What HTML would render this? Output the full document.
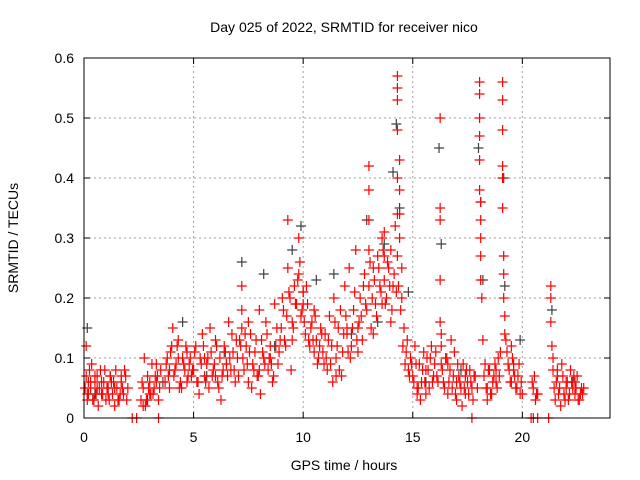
<!DOCTYPE html>
<html><head><meta charset="utf-8"><style>
body{margin:0;background:#fff;}
svg{display:block;font-family:"Liberation Sans",sans-serif;}
</style></head><body>
<svg id="chart" width="640" height="480">
<rect x="0" y="0" width="640" height="480" fill="#fff"/>
<g id="grid"></g>
<g id="gray"></g>
<g id="red"></g>
<rect x="84" y="58" width="526" height="360" fill="none" stroke="#000" stroke-width="1"/>
<g id="ticks"></g>
<text x="344" y="32" font-size="14" text-anchor="middle">Day 025 of 2022, SRMTID for receiver nico</text>
<text x="344" y="470" font-size="14" text-anchor="middle">GPS time / hours</text>
<text x="18" y="238" font-size="14" text-anchor="middle" transform="rotate(-90 18 238)">SRMTID / TECUs</text>
</svg>
<script>
const xTicks=[0,5,10,15,20];
const yTicks=[0,0.1,0.2,0.3,0.4,0.5,0.6];
const yTickLabels=["0","0.1","0.2","0.3","0.4","0.5","0.6"];
const redT=[0.05,0.1,0.15,0.2,0.25,0.3,0.4,0.5,0.55,0.6,0.7,0.8,0.9,1.0,1.1,1.2,1.3,1.4,1.5,1.6,1.7,1.8,1.9,2.0,0.35,0.65,0.95,1.25,1.55,1.85,
2.6,2.7,2.8,2.9,3.0,3.1,3.2,3.3,3.4,3.5,2.75,3.05,3.35,
3.7,3.8,3.9,4.0,4.1,4.2,4.3,4.4,4.5,4.6,4.7,4.8,4.9,4.05,4.45,
5.0,5.1,5.2,5.3,5.4,5.5,5.6,5.7,5.8,5.9,6.0,6.1,6.2,6.3,6.4,6.5,6.6,6.7,6.8,6.9,5.25,5.75,6.25,6.75,
7.0,7.1,7.2,7.2,7.2,7.3,7.4,7.5,7.6,7.7,7.8,7.9,8.0,8.1,8.2,8.3,8.4,8.5,8.6,8.7,8.8,8.9,7.65,8.05,8.55,
9.0,9.1,9.2,9.3,9.3,9.4,9.5,9.6,9.7,9.8,9.8,9.9,10.0,10.1,10.2,10.3,10.4,10.5,10.6,10.7,10.8,10.9,9.45,9.85,10.25,10.65,
11.0,11.1,11.2,11.3,11.4,11.5,11.6,11.7,11.8,11.9,12.0,12.1,12.2,12.3,12.4,12.5,12.6,12.7,12.8,11.35,11.75,12.15,12.55,
12.9,13.0,13.0,13.0,13.0,13.0,13.1,13.2,13.3,13.4,13.5,13.6,13.7,13.7,13.7,13.8,13.9,14.0,14.1,14.2,
14.3,14.3,14.3,14.3,14.3,14.3,14.3,14.4,14.4,14.4,14.4,14.5,14.5,14.6,14.7,14.8,14.9,
15.0,15.1,15.2,15.3,15.4,15.5,15.6,15.7,15.8,15.9,16.0,16.1,15.35,15.85,
16.25,16.25,16.25,16.25,16.25,16.3,16.3,16.3,16.4,16.5,16.6,16.7,16.8,16.9,17.0,17.1,17.2,17.3,17.4,17.5,17.6,17.7,17.8,16.75,17.25,
18.05,18.05,18.05,18.05,18.05,18.05,18.1,18.1,18.1,18.1,18.1,18.15,18.2,18.3,18.4,18.5,18.6,18.7,18.8,18.9,
19.1,19.1,19.1,19.1,19.1,19.1,19.15,19.15,19.15,19.2,19.2,19.3,19.4,19.5,19.5,19.6,19.7,19.8,19.9,
20.5,20.6,20.55,20.7,21.3,21.3,21.3,21.35,21.4,21.45,21.5,21.6,21.7,21.8,21.9,22.0,22.1,22.2,22.3,22.4,22.5,22.6,22.7,21.75,22.25,22.65,
2.2,2.4,3.4,17.7,20.4,20.5,20.7,21.2];
const redV=[0.05,0.12,0.04,0.06,0.08,0.05,0.03,0.06,0.04,0.07,0.05,0.04,0.06,0.03,0.05,0.07,0.04,0.02,0.05,0.03,0.06,0.04,0.07,0.05,0.09,0.02,0.08,0.06,0.03,0.08,
0.03,0.05,0.02,0.07,0.04,0.09,0.05,0.06,0.03,0.08,0.10,0.04,0.07,
0.06,0.10,0.08,0.12,0.07,0.09,0.13,0.06,0.10,0.08,0.11,0.09,0.07,0.15,0.05,
0.08,0.12,0.06,0.10,0.14,0.07,0.09,0.05,0.11,0.08,0.13,0.06,0.10,0.07,0.12,0.09,0.16,0.08,0.11,0.06,0.04,0.15,0.03,0.14,
0.10,0.13,0.22,0.18,0.15,0.08,0.12,0.06,0.14,0.09,0.11,0.07,0.18,0.13,0.10,0.16,0.08,0.12,0.06,0.19,0.15,0.11,0.05,0.04,0.09,
0.15,0.18,0.12,0.33,0.25,0.20,0.16,0.22,0.19,0.30,0.24,0.17,0.21,0.14,0.19,0.12,0.16,0.18,0.13,0.10,0.15,0.11,0.08,0.26,0.13,0.09,
0.14,0.08,0.17,0.12,0.20,0.10,0.15,0.18,0.11,0.22,0.14,0.25,0.12,0.18,0.28,0.15,0.20,0.13,0.24,0.06,0.07,0.10,0.16,
0.18,0.42,0.38,0.33,0.28,0.22,0.15,0.25,0.19,0.27,0.22,0.30,0.31,0.27,0.23,0.20,0.25,0.16,0.22,0.32,
0.57,0.55,0.53,0.48,0.40,0.34,0.27,0.43,0.38,0.34,0.30,0.25,0.20,0.15,0.11,0.08,0.10,
0.07,0.12,0.05,0.09,0.06,0.11,0.04,0.08,0.10,0.06,0.09,0.07,0.03,0.12,
0.50,0.35,0.33,0.23,0.16,0.14,0.12,0.09,0.06,0.10,0.04,0.08,0.05,0.11,0.03,0.07,0.05,0.09,0.04,0.06,0.08,0.05,0.07,0.13,0.02,
0.56,0.54,0.50,0.47,0.43,0.38,0.36,0.33,0.30,0.27,0.23,0.20,0.13,0.09,0.05,0.08,0.04,0.07,0.06,0.10,
0.56,0.53,0.48,0.42,0.40,0.35,0.27,0.24,0.20,0.17,0.14,0.11,0.08,0.12,0.06,0.09,0.05,0.07,0.04,
0.05,0.03,0.07,0.04,0.22,0.20,0.16,0.12,0.08,0.05,0.03,0.07,0.05,0.09,0.04,0.06,0.03,0.08,0.05,0.04,0.07,0.03,0.05,0.02,0.06,0.04,
0,0,0,0,0,0,0,0];
const redT2=[0.1,0.2,0.3,0.45,0.6,0.75,0.85,1.05,1.15,1.35,1.45,1.65,1.75,1.95,0.15,0.5,0.8,1.1,1.4,1.7,
2.65,2.85,2.95,3.15,3.25,3.45,2.7,3.0,3.3,
3.75,3.85,3.95,4.15,4.25,4.35,4.55,4.65,4.75,4.85,4.95,3.9,4.3,4.7,
5.05,5.15,5.35,5.45,5.55,5.65,5.85,5.95,6.05,6.15,6.35,6.45,6.55,6.65,6.85,6.95,5.5,6.0,6.5,
7.05,7.15,7.25,7.35,7.45,7.55,7.75,7.85,7.95,8.15,8.25,8.35,8.45,8.65,8.75,8.85,8.95,7.5,8.0,8.5,
9.05,9.15,9.25,9.35,9.55,9.65,9.75,9.95,10.05,10.15,10.35,10.45,10.55,10.75,10.85,10.95,9.5,10.0,10.5,
11.05,11.15,11.25,11.45,11.55,11.65,11.85,11.95,12.05,12.25,12.35,12.45,12.65,12.75,12.85,11.5,12.0,12.5,
13.05,13.15,13.25,13.35,13.45,13.55,13.65,13.75,13.85,13.95,14.05,14.15,14.25,13.2,13.6,14.0,
14.35,14.45,14.55,14.65,14.75,14.85,14.95,15.05,15.15,15.25,15.45,15.55,15.65,15.75,15.95,16.05,16.15,15.2,15.6,
16.35,16.45,16.55,16.65,16.85,16.95,17.05,17.15,17.35,17.45,17.55,17.65,17.75,17.85,17.95,16.6,17.0,17.4,
18.25,18.35,18.45,18.55,18.65,18.75,18.85,18.95,19.0,18.4,18.8,
19.25,19.35,19.45,19.55,19.65,19.75,19.85,19.95,20.0,19.6,
20.45,20.65,21.4,21.55,21.65,21.85,21.95,22.05,22.15,22.35,22.45,22.55,22.75,21.6,22.0,22.4,22.8];
const redV2=[0.07,0.04,0.06,0.03,0.05,0.08,0.04,0.05,0.03,0.06,0.08,0.04,0.05,0.03,0.03,0.07,0.06,0.04,0.05,0.07,
0.06,0.03,0.05,0.04,0.07,0.05,0.02,0.06,0.09,
0.09,0.07,0.11,0.08,0.12,0.05,0.09,0.12,0.07,0.10,0.08,0.05,0.10,0.06,
0.11,0.06,0.09,0.12,0.06,0.10,0.07,0.09,0.12,0.05,0.08,0.11,0.07,0.10,0.08,0.13,0.10,0.07,0.09,
0.07,0.12,0.10,0.14,0.09,0.11,0.08,0.13,0.07,0.11,0.09,0.14,0.10,0.07,0.12,0.09,0.13,0.16,0.08,0.10,
0.20,0.13,0.17,0.21,0.15,0.19,0.23,0.18,0.16,0.22,0.15,0.13,0.17,0.12,0.14,0.09,0.13,0.19,0.11,
0.10,0.13,0.09,0.16,0.12,0.08,0.14,0.17,0.11,0.15,0.21,0.13,0.17,0.22,0.19,0.07,0.15,0.11,
0.26,0.20,0.23,0.17,0.25,0.21,0.28,0.19,0.26,0.22,0.18,0.24,0.21,0.14,0.19,0.28,
0.22,0.18,0.12,0.09,0.13,0.07,0.09,0.06,0.09,0.05,0.08,0.06,0.10,0.05,0.07,0.11,0.06,0.04,0.08,
0.08,0.05,0.10,0.06,0.07,0.04,0.09,0.06,0.05,0.08,0.04,0.06,0.03,0.07,0.05,0.09,0.06,0.07,
0.07,0.05,0.08,0.04,0.06,0.09,0.05,0.07,0.11,0.03,0.08,
0.13,0.09,0.06,0.10,0.07,0.05,0.09,0.06,0.04,0.08,
0.06,0.04,0.10,0.06,0.04,0.07,0.03,0.06,0.04,0.07,0.05,0.03,0.04,0.08,0.05,0.06,0.05];
const grayT=[0.15,0.5,1.2,2.9,3.6,4.5,5.6,6.4,7.2,8.2,8.7,9.5,9.9,10.0,10.6,11.4,12.2,12.9,13.4,13.7,14.1,14.25,14.4,14.8,15.6,16.2,16.3,17.2,18.0,18.1,18.2,19.15,19.2,19.9,21.35,22.3];
const grayV=[0.15,0.04,0.07,0.03,0.06,0.16,0.07,0.11,0.26,0.24,0.12,0.28,0.32,0.21,0.23,0.24,0.14,0.33,0.16,0.29,0.41,0.49,0.35,0.21,0.06,0.45,0.29,0.08,0.45,0.36,0.23,0.40,0.22,0.13,0.18,0.06];
const NS="http://www.w3.org/2000/svg";
const X0=84,X1=610,Y0=418,Y1=58;
function xs(t){return X0+(t/24)*(X1-X0);}
function ys(v){return Y0-(v/0.6)*(Y0-Y1);}
function mk(tag,attrs,parent){const e=document.createElementNS(NS,tag);for(const k in attrs)e.setAttribute(k,attrs[k]);parent.appendChild(e);return e;}
const grid=document.getElementById('grid'),ticks=document.getElementById('ticks');
xTicks.forEach((t,i)=>{
 const x=xs(t);
 if(t>0){const l=mk('line',{x1:x,y1:Y0,x2:x,y2:Y1,stroke:'#a0a0a0','stroke-dasharray':'2,3'},grid);
 
 }
 mk('line',{x1:x,y1:Y0,x2:x,y2:Y0-6,stroke:'#000'},ticks);
 mk('line',{x1:x,y1:Y1,x2:x,y2:Y1+6,stroke:'#000'},ticks);
 const tx=mk('text',{x:x,y:Y0+24,'font-size':14,'text-anchor':'middle'},ticks);
 tx.textContent=String(t);
 
 
});
yTicks.forEach((v,i)=>{
 const y=ys(v);
 if(v>0&&v<0.6){const l=mk('line',{x1:X0,y1:y,x2:X1,y2:y,stroke:'#a0a0a0','stroke-dasharray':'2,3'},grid);
 
 }
 mk('line',{x1:X0,y1:y,x2:X0+6,y2:y,stroke:'#000'},ticks);
 mk('line',{x1:X1,y1:y,x2:X1-6,y2:y,stroke:'#000'},ticks);
 const tx=mk('text',{x:X0-10,y:y+5,'font-size':14,'text-anchor':'end'},ticks);
 tx.textContent=yTickLabels[i];
 
 
});
function plus(g,t,v,color,name){
 const x=xs(t),y=ys(v);
 const p=mk('path',{d:`M${x-5} ${y}H${x+5}M${x} ${y-5}V${y+5}`,stroke:color,'stroke-width':1.2,fill:'none'},g);
 
 
}
const gg=document.getElementById('gray');
grayT.forEach((t,i)=>plus(gg,t,grayV[i],'#404040','gray-point'));
const rg=document.getElementById('red');
redT.forEach((t,i)=>plus(rg,t,redV[i],'#ff0000','red-point'));
redT2.forEach((t,i)=>plus(rg,t,redV2[i],'#ff0000','red-point'));
</script>
</body></html>
